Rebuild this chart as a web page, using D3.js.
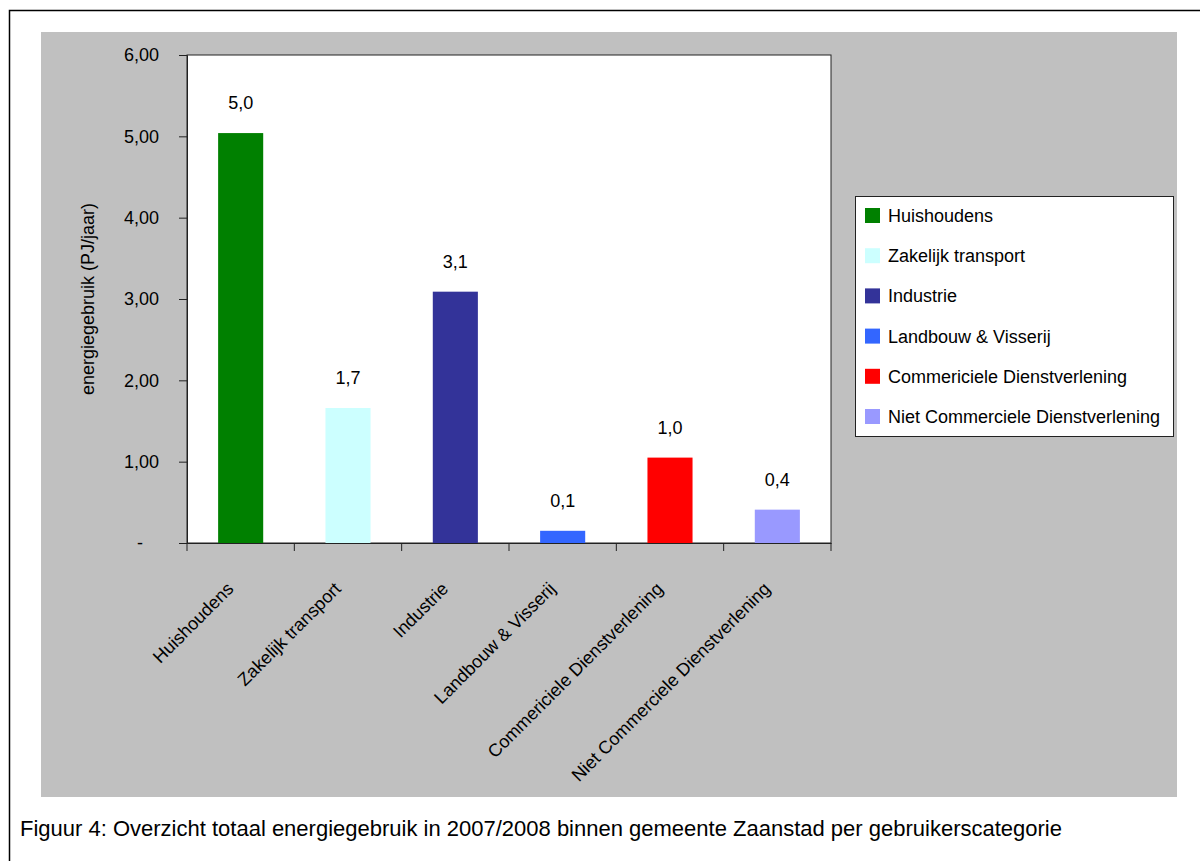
<!DOCTYPE html>
<html>
<head>
<meta charset="utf-8">
<script src="https://cdn.jsdelivr.net/npm/d3@7"></script>
<style>
  body { margin: 0; background: #fff; }
  svg text { font-family: "Liberation Sans Narrow", "Arial Narrow", "Liberation Sans", sans-serif; fill: #000; }
</style>
</head>
<body>
<div id="chart"></div>
<script>
// energiegebruik per gebruikerscategorie (PJ/jaar)
let categories = ["Huishoudens", "Zakelijk transport", "Industrie", "Landbouw & Visserij", "Commericiele Dienstverlening", "Niet Commerciele Dienstverlening"]
let values = [5.04, 1.66, 3.09, 0.15, 1.05, 0.41]
let valueLabels = ["5,0", "1,7", "3,1", "0,1", "1,0", "0,4"]
let colors = ["#008000", "#ccffff", "#333399", "#3366ff", "#ff0000", "#9999ff"]
let yTicks = [0, 1, 2, 3, 4, 5, 6]

width = 1200;
height = 861;

let svg = d3.select("#chart")
  .append("svg")
  .attr("width", width)
  .attr("height", height)

// outer frame
svg.append("rect")
  .attr("x", 9.5).attr("y", 10.5)
  .attr("width", 1200).attr("height", 900)
  .attr("fill", "white")
  .attr("stroke", "black")
  .attr("stroke-width", 1.5)

// grey chart area
svg.append("rect")
  .attr("x", 41).attr("y", 32)
  .attr("width", 1136).attr("height", 765)
  .attr("fill", "#c0c0c0")

let plotLeft = 187, plotRight = 831, plotTop = 55, plotBottom = 543

let x = d3.scaleBand().domain(categories).range([plotLeft, plotRight]).paddingInner(0.58).paddingOuter(0.29)
let y = d3.scaleLinear().domain([0, 6]).range([plotBottom, plotTop])

// plot area
svg.append("rect")
  .attr("x", plotLeft).attr("y", plotTop)
  .attr("width", plotRight - plotLeft).attr("height", plotBottom - plotTop)
  .attr("fill", "white")
  .attr("stroke", "#222")

svg.selectAll(".bar")
  .data(categories)
  .enter().append("rect")
  .attr("class", "bar")
  .attr("x", d => x(d))
  .attr("y", (d, i) => y(values[i]))
  .attr("width", x.bandwidth())
  .attr("height", (d, i) => y(0) - y(values[i]))
  .attr("fill", (d, i) => colors[i])

svg.selectAll(".vlabel")
  .data(categories)
  .enter().append("text")
  .attr("class", "vlabel")
  .attr("x", d => x(d) + x.bandwidth() / 2)
  .attr("y", (d, i) => y(values[i]) - 24)
  .attr("text-anchor", "middle")
  .attr("font-size", 18)
  .text((d, i) => valueLabels[i])

// y axis
let yAxis = d3.axisLeft(y).tickValues(yTicks).tickSize(8).tickPadding(20)
  .tickFormat(d => d === 0 ? "-" : d3.format(".2f")(d).replace(".", ","))
let gy = svg.append("g")
  .attr("transform", "translate(" + plotLeft + ",0)")
  .call(yAxis)
gy.select(".domain").attr("stroke", "#222")
gy.selectAll(".tick line").attr("stroke", "#222")
gy.selectAll(".tick text").attr("font-size", 18).attr("font-family", null)
gy.selectAll(".tick text").filter(d => d === 0).attr("dx", -16)

// x axis with ticks between categories
let xAxis = d3.axisBottom(x).tickSize(0).tickFormat("")
let gx = svg.append("g")
  .attr("transform", "translate(0," + plotBottom + ")")
  .call(xAxis)
gx.select(".domain").attr("stroke", "#222")
let step = x.step()
let sepStart = x(categories[0]) - (step - x.bandwidth()) / 2
gx.selectAll(".sep")
  .data(d3.range(categories.length + 1))
  .enter().append("line")
  .attr("x1", i => sepStart + i * step)
  .attr("x2", i => sepStart + i * step)
  .attr("y1", 0).attr("y2", 8)
  .attr("stroke", "#222")

svg.selectAll(".xlabel")
  .data(categories)
  .enter().append("text")
  .attr("class", "xlabel")
  .attr("text-anchor", "end")
  .attr("font-size", 18)
  .attr("transform", d => "translate(" + (x(d) + x.bandwidth() / 2 - 6) + "," + (plotBottom + 47) + ") rotate(-45)")
  .text(d => d)

svg.append("text")
  .attr("text-anchor", "middle")
  .attr("transform", "translate(94," + ((plotTop + plotBottom) / 2) + ") rotate(-90)")
  .attr("font-size", 18)
  .text("energiegebruik (PJ/jaar)")

// legend
svg.append("rect")
  .attr("x", 855.5).attr("y", 196.5)
  .attr("width", 318).attr("height", 240)
  .attr("fill", "white")
  .attr("stroke", "#222")
let legend = svg.append("g")
let items = legend.selectAll("g")
  .data(categories)
  .enter().append("g")
  .attr("transform", (d, i) => "translate(865," + (215 + i * 40.2) + ")")
items.append("rect")
  .attr("x", 0).attr("y", -7)
  .attr("width", 15).attr("height", 15)
  .attr("fill", (d, i) => colors[i])
items.append("text")
  .attr("x", 23).attr("y", 7)
  .attr("font-size", 18)
  .text(d => d)

svg.append("text")
  .attr("x", 20).attr("y", 836)
  .attr("font-size", 22)
  .text("Figuur 4: Overzicht totaal energiegebruik in 2007/2008 binnen gemeente Zaanstad per gebruikerscategorie")
</script>
</body>
</html>
